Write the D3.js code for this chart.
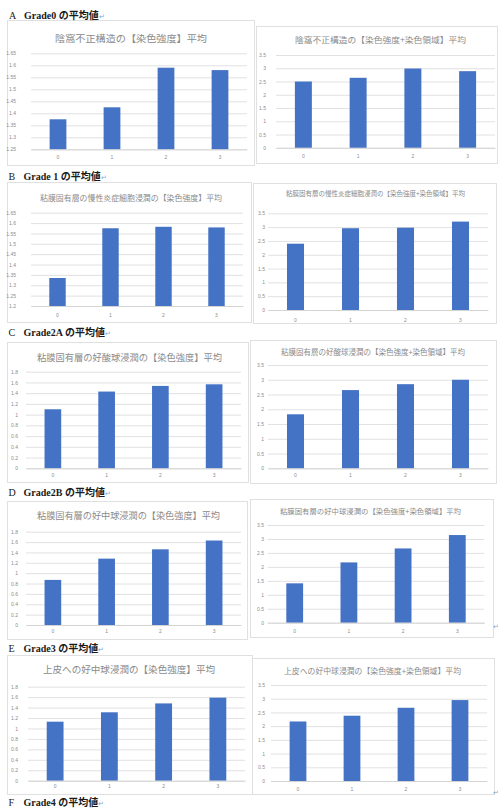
<!DOCTYPE html>
<html><head><meta charset="utf-8">
<script src="https://cdn.jsdelivr.net/npm/d3@7"></script>
<style>
body{margin:0;background:#fff;}
svg{display:block;}
</style></head><body>
<svg id="c" width="498" height="808"></svg>
<script>
// ---------- data ----------
const categories = ["0","1","2","3"];
const sectionLetters = ["A","B","C","D","E","F"];
const sectionTexts = ["Grade0 の平均値","Grade 1 の平均値","Grade2A の平均値","Grade2B の平均値","Grade3 の平均値","Grade4 の平均値"];

const titlesIntensity = [
  "陰窩不正構造の【染色強度】平均",
  "粘膜固有層の慢性炎症細胞浸潤の【染色強度】平均",
  "粘膜固有層の好酸球浸潤の【染色強度】平均",
  "粘膜固有層の好中球浸潤の【染色強度】平均",
  "上皮への好中球浸潤の【染色強度】平均"
];
const titlesIntensityArea = [
  "陰窩不正構造の【染色強度+染色領域】平均",
  "粘膜固有層の慢性炎症細胞浸潤の【染色強度+染色領域】平均",
  "粘膜固有層の好酸球浸潤の【染色強度+染色領域】平均",
  "粘膜固有層の好中球浸潤の【染色強度+染色領域】平均",
  "上皮への好中球浸潤の【染色強度+染色領域】平均"
];

const intensityGrade0  = [1.375, 1.425, 1.59, 1.58];
const intensityGrade1  = [1.335, 1.575, 1.582, 1.579];
const intensityGrade2A = [1.10, 1.43, 1.535, 1.565];
const intensityGrade2B = [0.87, 1.28, 1.46, 1.63];
const intensityGrade3  = [1.13, 1.31, 1.48, 1.59];

const areaGrade0  = [2.50, 2.64, 2.99, 2.89];
const areaGrade1  = [2.40, 2.96, 2.98, 3.20];
const areaGrade2A = [1.83, 2.65, 2.85, 3.00];
const areaGrade2B = [1.41, 2.16, 2.66, 3.14];
const areaGrade3  = [2.17, 2.38, 2.67, 2.95];

const ticksGrade0 = [1.25, 1.3, 1.35, 1.4, 1.45, 1.5, 1.55, 1.6, 1.65];
const ticksGrade1 = [1.2, 1.25, 1.3, 1.35, 1.4, 1.45, 1.5, 1.55, 1.6, 1.65];
const ticks18 = [0, 0.2, 0.4, 0.6, 0.8, 1, 1.2, 1.4, 1.6, 1.8];
const ticks35 = [0, 0.5, 1, 1.5, 2, 2.5, 3, 3.5];

const intensityValues = [intensityGrade0, intensityGrade1, intensityGrade2A, intensityGrade2B, intensityGrade3];
const areaValues = [areaGrade0, areaGrade1, areaGrade2A, areaGrade2B, areaGrade3];
const intensityTicks = [ticksGrade0, ticksGrade1, ticks18, ticks18, ticks18];

// ---------- layout (positions only) ----------
const sectionPos = [[9,19],[8.5,179.5],[8.5,336],[8.5,496],[8.5,651.5],[8.5,806]];
const leftLayout = [
  {box:[7,20,254,165],  plot:[31,247,53.3,149.3],  title:[131,38,9.5,152],   ylabX:16, xlabY:157},
  {box:[7,182,251,322], plot:[31,243,212.7,306],   title:[131,197.3,7.9,182], ylabX:16, xlabY:315.7},
  {box:[7,342,248,482], plot:[26,241,371.7,468.3], title:[129.5,356.7,9.2,185], ylabX:18, xlabY:475},
  {box:[7,501,247,639], plot:[26,241,531.7,625],   title:[128.5,515,9.1,183], ylabX:18, xlabY:631.7},
  {box:[7,655,252,794], plot:[28,245,686.7,780.7], title:[129,669.3,9.5,172], ylabX:18, xlabY:786.7}
];
const rightLayout = [
  {box:[256,26,497,163],  plot:[276,495,55,147.8],    title:[380.5,39,8.3,171],   ylabX:266, xlabY:156},
  {box:[253,183,496,323], plot:[268,488,213.3,310],   title:[375.5,193.3,6.5,179], ylabX:265, xlabY:320},
  {box:[250,340,496,483], plot:[268,488,365,468.3],   title:[373,351.7,7.5,184],  ylabX:264, xlabY:475},
  {box:[250,499,493,637], plot:[267.6,484.4,525,622.7], title:[370.5,510.7,7.4,181], ylabX:264, xlabY:631},
  {box:[252,658,494,794], plot:[271,487,685,781],     title:[372.5,670.7,7.9,177], ylabX:265, xlabY:789.3}
];
const returnMarks = [[496,627],[496,793]];

// ---------- drawing ----------
const svg = d3.select("#c");
const BAR = "#4472c4", GRID = "#d9d9d9", AXTXT = "#8c8c8c", TITLE = "#8a8a8a";
const fmt = d3.format("~g");

function drawChart(L, title, values, ticks) {
  const g = svg.append("g");
  g.append("rect")
    .attr("x", L.box[0] + 0.5).attr("y", L.box[1] + 0.5)
    .attr("width", L.box[2] - L.box[0]).attr("height", L.box[3] - L.box[1])
    .attr("fill", "#fff").attr("stroke", "#e0e0e0").attr("stroke-width", 1);

  const x = d3.scaleBand().domain(categories).range([L.plot[0], L.plot[1]])
    .paddingInner(0.69).paddingOuter(0.345);
  const y = d3.scaleLinear().domain([ticks[0], ticks[ticks.length - 1]]).range([L.plot[3], L.plot[2]]);

  const ya = g.append("g").attr("transform", `translate(${L.plot[0]},0)`)
    .call(d3.axisLeft(y).tickValues(ticks).tickSize(-(L.plot[1] - L.plot[0]))
      .tickPadding(L.plot[0] - L.ylabX).tickFormat(fmt));
  ya.select(".domain").remove();
  ya.selectAll(".tick line").attr("stroke", GRID).attr("stroke-width", 0.8);
  ya.selectAll(".tick text").attr("fill", AXTXT).attr("font-size", 5)
    .attr("font-family", "Liberation Sans, Arial, sans-serif");

  g.selectAll(".bar").data(values).join("rect")
    .attr("x", (d, i) => x(categories[i]))
    .attr("y", d => y(d))
    .attr("width", x.bandwidth())
    .attr("height", d => y(ticks[0]) - y(d))
    .attr("fill", BAR);

  const xa = g.append("g").attr("transform", `translate(0,${L.plot[3]})`)
    .call(d3.axisBottom(x).tickSize(0));
  xa.select(".domain").attr("stroke", "#d0d0d0").attr("stroke-width", 0.8);
  xa.selectAll(".tick text").attr("y", L.xlabY - L.plot[3]).attr("dy", "0.35em")
    .attr("fill", AXTXT).attr("font-size", 5)
    .attr("font-family", "Liberation Sans, Arial, sans-serif");

  g.append("text")
    .attr("x", L.title[0]).attr("y", L.title[1])
    .attr("text-anchor", "middle").attr("dominant-baseline", "central")
    .attr("font-family", "Noto Sans CJK JP, sans-serif")
    .attr("font-size", L.title[2])
    .attr("textLength", L.title[3]).attr("lengthAdjust", "spacingAndGlyphs")
    .attr("fill", TITLE)
    .text(title);
}

for (let i = 0; i < 5; i++) {
  drawChart(leftLayout[i], titlesIntensity[i], intensityValues[i], intensityTicks[i]);
  drawChart(rightLayout[i], titlesIntensityArea[i], areaValues[i], ticks35);
}

sectionLetters.forEach((s, i) => {
  const [sx, sy] = sectionPos[i];
  const t = svg.append("text").attr("y", sy)
    .attr("font-family", "Liberation Serif, Noto Sans CJK JP, serif")
    .attr("font-size", 10).attr("font-weight", "bold").attr("fill", "#1a1a1a");
  t.append("tspan").attr("x", sx).attr("font-weight", "normal").text(s);
  t.append("tspan").attr("x", sx + 15).text(sectionTexts[i]);
  t.append("tspan").attr("fill", "#7ea6d6").attr("font-weight", "normal").attr("font-size", 7).text("↵");
});

returnMarks.forEach(([rx, ry]) => {
  svg.append("text").attr("x", rx).attr("y", ry).attr("text-anchor", "middle")
    .attr("dominant-baseline", "central").attr("font-size", 7).attr("fill", "#7ea6d6").text("↵");
});
</script>
</body></html>
